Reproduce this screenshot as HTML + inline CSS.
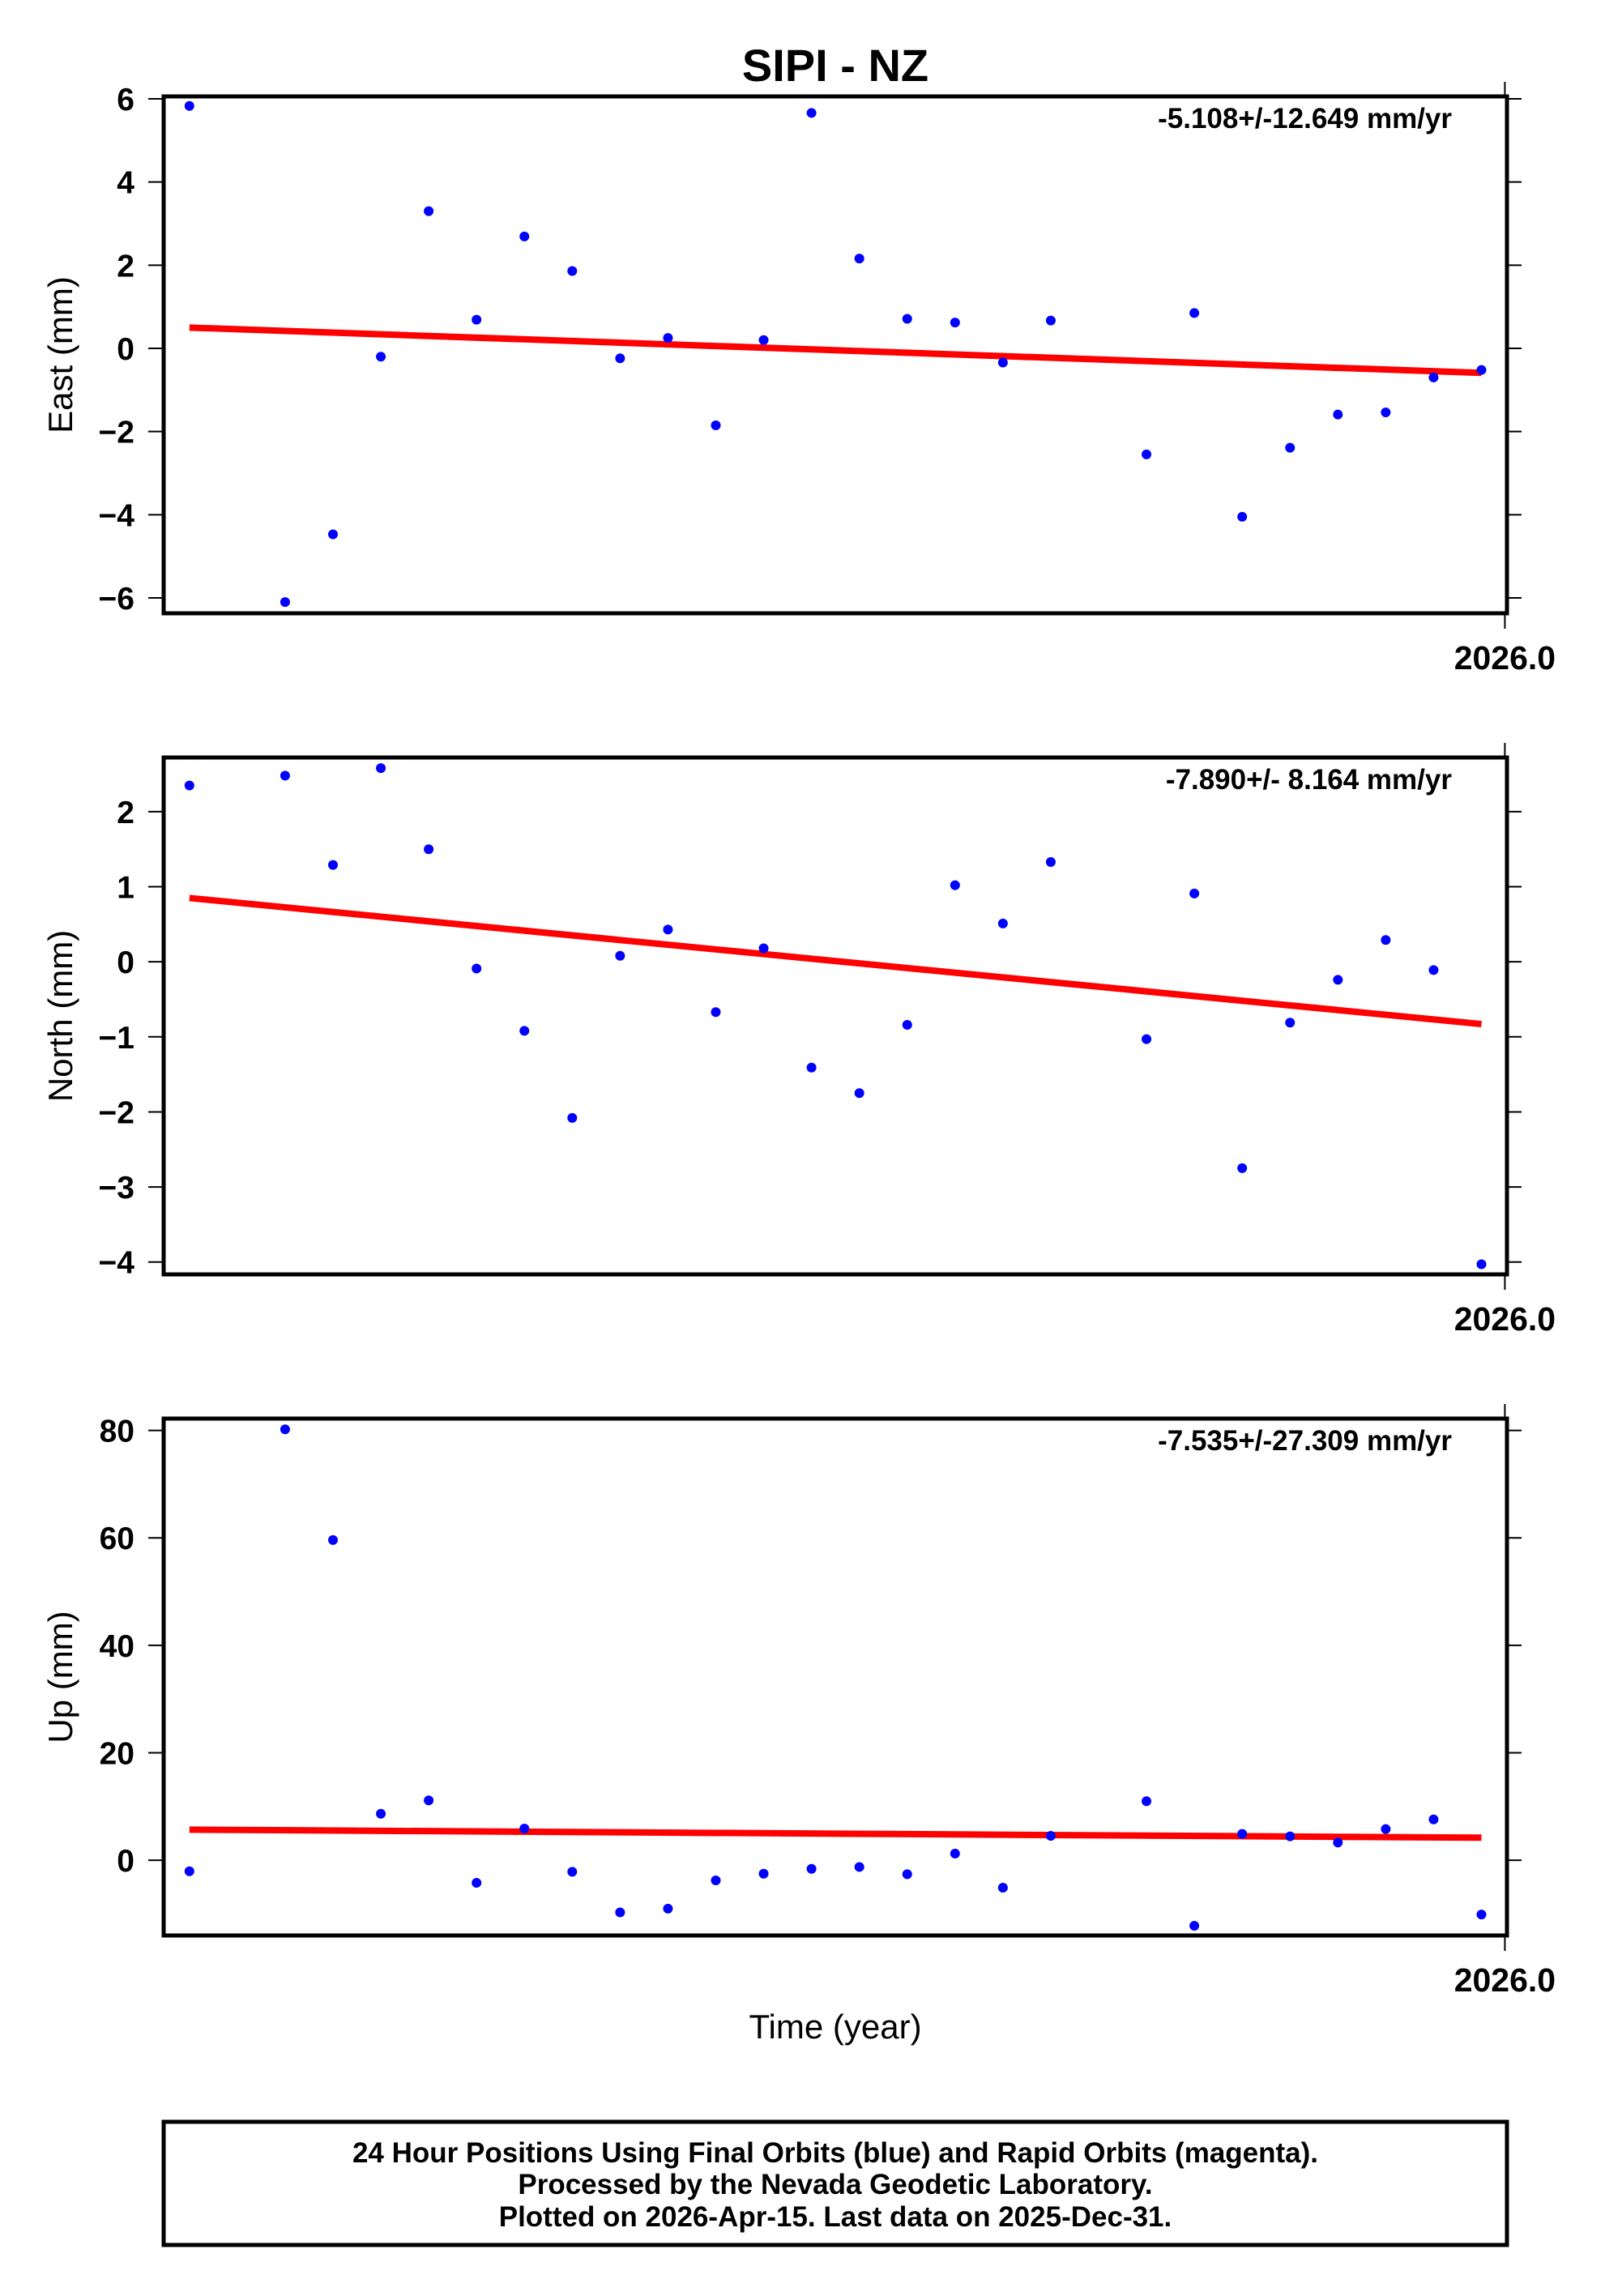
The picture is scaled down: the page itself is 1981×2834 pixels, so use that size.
<!DOCTYPE html>
<html><head><meta charset="utf-8"><style>
html,body{margin:0;padding:0;background:#fff}
svg{display:block}
text{font-family:"Liberation Sans",Arial,sans-serif}
</style></head><body>
<svg id="chart" width="1981" height="2834" viewBox="0 0 1981 2834" xmlns="http://www.w3.org/2000/svg">
<rect width="1981" height="2834" fill="#fff"/>
<text x="1031" y="100" font-size="56" font-weight="bold" text-anchor="middle">SIPI - NZ</text>
<g id="panels"></g>
<text x="1031" y="2516" font-size="42" text-anchor="middle">Time (year)</text>
<g>
<rect x="202" y="2619" width="1658" height="152" fill="none" stroke="#000" stroke-width="5"/>
<text x="1031" y="2669" font-size="35" font-weight="bold" text-anchor="middle">24 Hour Positions Using Final Orbits (blue) and Rapid Orbits (magenta).</text>
<text x="1031" y="2708" font-size="35" font-weight="bold" text-anchor="middle">Processed by the Nevada Geodetic Laboratory.</text>
<text x="1031" y="2748" font-size="35" font-weight="bold" text-anchor="middle">Plotted on 2026-Apr-15. Last data on 2025-Dec-31.</text>
</g>
</svg>
<script>
const stepK = [27,25,24,23,22,21,20,19,18,17,16,15,14,13,12,11,10,9,7,6,5,4,3,2,1,0];
const times = stepK.map(k => 2025.9866 - k * 0.02738);
const eastValues = [5.83,-6.10,-4.47,-0.20,3.30,0.69,2.69,1.86,-0.24,0.25,-1.85,0.20,5.66,2.16,0.71,0.62,-0.34,0.67,-2.55,0.85,-4.05,-2.39,-1.59,-1.54,-0.70,-0.52];
const northValues = [2.35,2.48,1.29,2.58,1.50,-0.09,-0.92,-2.08,0.08,0.43,-0.67,0.18,-1.41,-1.75,-0.84,1.02,0.51,1.33,-1.03,0.91,-2.75,-0.81,-0.24,0.29,-0.11,-4.03];
const upValues = [-2.05,80.2,59.6,8.65,11.15,-4.2,5.9,-2.15,-9.7,-9.0,-3.75,-2.5,-1.6,-1.25,-2.6,1.25,-5.1,4.55,11.0,-12.2,4.9,4.45,3.3,5.8,7.6,-10.1];
const eastTrend = [0.50,-0.59];
const northTrend = [0.85,-0.83];
const upTrend = [5.7,4.2];
const eastTicks = [6,4,2,0,-2,-4,-6];
const northTicks = [2,1,0,-1,-2,-3,-4];
const upTicks = [80,60,40,20,0];
const rateLabels = ["-5.108+/-12.649 mm/yr","-7.890+/- 8.164 mm/yr","-7.535+/-27.309 mm/yr"];
const xTickValues = [2026.0];
const xTickLabels = ["2026.0"];

const NS="http://www.w3.org/2000/svg";
const L=202,R=1860,H=638;
const xMin=2025.2326,xMax=2026.0012;
const xs=v=>L+(v-xMin)/(xMax-xMin)*(R-L);
function mk(tag,attrs,parent){const e=document.createElementNS(NS,tag);for(const k in attrs)e.setAttribute(k,attrs[k]);parent.appendChild(e);return e;}
const root=document.getElementById('panels');
const panels=[
 {name:'east',title:'East (mm)',top:119,yMin:-6.370,yMax:6.058,vals:eastValues,trend:eastTrend,ticks:eastTicks,rate:rateLabels[0]},
 {name:'north',title:'North (mm)',top:935,yMin:-4.165,yMax:2.722,vals:northValues,trend:northTrend,ticks:northTicks,rate:rateLabels[1]},
 {name:'up',title:'Up (mm)',top:1751,yMin:-14.0,yMax:82.2,vals:upValues,trend:upTrend,ticks:upTicks,rate:rateLabels[2]}
];
panels.forEach(p=>{
 const g=mk('g',{},root);
 
 
 const ys=v=>p.top+(p.yMax-v)/(p.yMax-p.yMin)*H;
 const bot=p.top+H;
 p.ticks.forEach(t=>{
  const y=ys(t);
  const tl=mk('line',{x1:183,y1:y,x2:L,y2:y,stroke:'#000','stroke-width':2},g);
  
  
  const tr=mk('line',{x1:R,y1:y,x2:R+18,y2:y,stroke:'#000','stroke-width':2},g);
  
  
  const lab=mk('text',{x:166,y:y+14,'font-size':39,'font-weight':'bold','text-anchor':'end'},g);
  lab.textContent=(t<0?'\u2212'+Math.abs(t):String(t));
  
  
 });
 xTickValues.forEach((v,i)=>{
  const x=xs(v);
  const a=mk('line',{x1:x,y1:p.top-18,x2:x,y2:p.top,stroke:'#000','stroke-width':2},g);
  
  
  const b=mk('line',{x1:x,y1:bot,x2:x,y2:bot+19,stroke:'#000','stroke-width':2},g);
  
  
  const t=mk('text',{x:x,y:bot+69,'font-size':41,'font-weight':'bold','text-anchor':'middle'},g);
  t.textContent=xTickLabels[i];
  
  
 });
 const cy=p.top+H/2;
 const at=mk('text',{x:0,y:0,'font-size':42,'text-anchor':'middle',transform:`translate(89,${cy}) rotate(-90)`},g);
 at.textContent=p.title;
 
 
 const tln=mk('line',{x1:xs(times[0]),y1:ys(p.trend[0]),x2:xs(times[times.length-1]),y2:ys(p.trend[1]),stroke:'#ff0000','stroke-width':8},g);
 
 
 p.vals.forEach((v,i)=>{
  const c=mk('circle',{cx:xs(times[i]),cy:ys(v),r:6,fill:'#0000ff'},g);
  
  
 });
 const fr=mk('rect',{x:L,y:p.top,width:R-L,height:H,fill:'none',stroke:'#000','stroke-width':5},g);
 
 
 const rt=mk('text',{x:1792,y:p.top+39,'font-size':35,'font-weight':'bold','text-anchor':'end'},g);
 rt.textContent=p.rate;
 
 
});
</script>
</body></html>
